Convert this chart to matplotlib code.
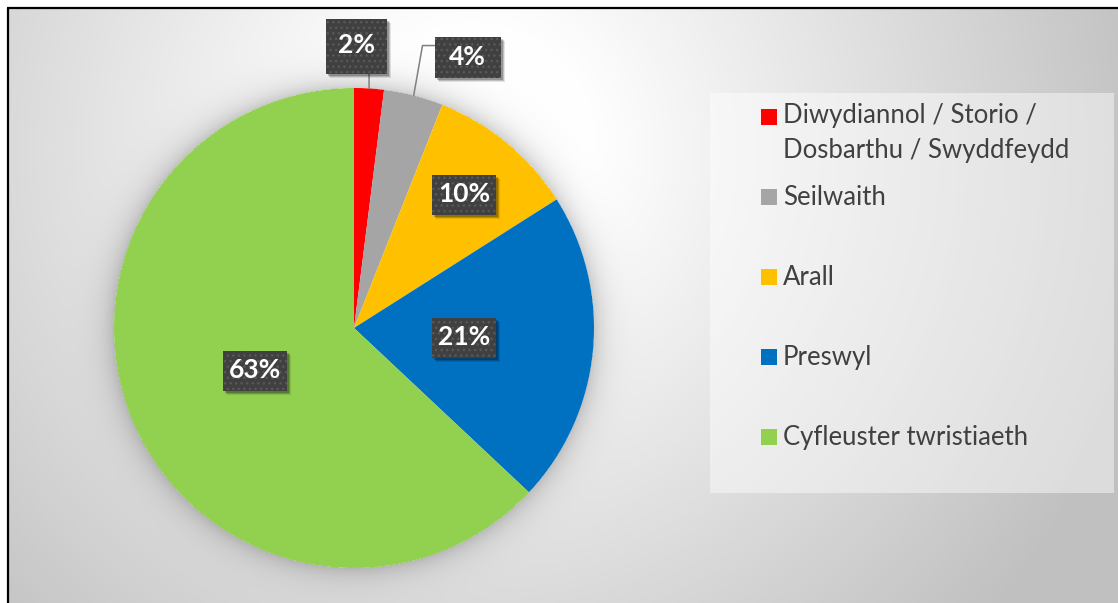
import numpy as np
import matplotlib
matplotlib.use("Agg")
import matplotlib.pyplot as plt
from matplotlib.patches import Rectangle

categorias = ["Diwydiannol / Storio /\nDosbarthu / Swyddfeydd", "Seilwaith", "Arall",
              "Preswyl", "Cyfleuster twristiaeth"]
valores = [2, 4, 10, 21, 63]
colores = ["#FF0000", "#A5A5A5", "#FFC000", "#0070C0", "#92D050"]

W, H = 1118, 603
plt.rcParams["hatch.linewidth"] = 1.0
fig = plt.figure(figsize=(W / 100, H / 100), dpi=100)
ax = fig.add_axes([0, 0, 1, 1])

# centro y radio de la tarta (en píxeles)
cx, cy_px, R = 354, 328, 240
cy = H - cy_px

# fondo con degradado radial y sombra suave alrededor de la tarta
yy, xx = np.mgrid[0:H, 0:W] + 0.5
d = np.hypot(xx - 470, yy - 150)
fondo = 255 - 63 * np.clip((d - 120) / 580, 0, 1)
dp = np.hypot(xx - cx, yy - cy_px) - R
sombra = np.where(dp > 0, 0.18 * np.exp(-np.clip(dp, 0, None) / 13), 0)
fondo = fondo * (1 - sombra)
img = np.dstack([fondo] * 3) / 255
img[:8, :] = 1
img[:, :8] = 1
ax.imshow(img, extent=(0, W, 0, H), origin="upper", zorder=0, interpolation="nearest")

# borde superior e izquierdo
ax.plot([7, W], [H - 8, H - 8], color="black", lw=1.6, zorder=1, solid_capstyle="butt")
ax.plot([8, 8], [0, H - 8], color="black", lw=1.6, zorder=1, solid_capstyle="butt")

# tarta
wedges, _ = ax.pie(valores, colors=colores, startangle=90, counterclock=False,
                   radius=R, center=(cx, cy))
for w in wedges:
    w.set_zorder(2)

# etiquetas: exteriores (con línea guía) e interiores
desplaz = {0: (-13, 42), 1: (54, 38)}
radio_int = {2: 0.72, 3: 0.46, 4: 0.45}
tam_caja = {0: (61, 55), 1: (66, 41)}

for i, w in enumerate(wedges):
    ang = np.deg2rad((w.theta1 + w.theta2) / 2)
    if i in desplaz:
        borde = (cx + R * np.cos(ang), cy + R * np.sin(ang))
        tx, ty = borde[0] + desplaz[i][0], borde[1] + desplaz[i][1]
    else:
        f = radio_int[i]
        tx, ty = cx + f * R * np.cos(ang), cy + f * R * np.sin(ang)
    bw, bh = tam_caja.get(i, (64, 40))
    # sombra de la caja
    for k, a in [(4, 0.10), (3, 0.16), (2, 0.22)]:
        ax.add_patch(Rectangle((tx - bw / 2 + k, ty - bh / 2 - k), bw, bh,
                               facecolor="black", alpha=a, edgecolor="none", zorder=4))
    ax.add_patch(Rectangle((tx - bw / 2, ty - bh / 2), bw, bh, facecolor="#404040",
                           edgecolor="#595959", linewidth=0, hatch="...", zorder=5))
    ax.text(tx, ty + 1, f"{valores[i]}%", ha="center", va="center", family="Lato",
            weight="bold", size=19, color="white", zorder=6)
    # líneas guía
    if i == 0:
        ax.annotate("", xy=borde, xytext=(borde[0], ty - bh / 2), zorder=3,
                    arrowprops=dict(arrowstyle="-", color="#808080", lw=1.1,
                                    shrinkA=0, shrinkB=0))
    elif i == 1:
        ax.annotate("", xy=borde, xytext=(tx - bw / 2, ty + 12), zorder=3,
                    arrowprops=dict(arrowstyle="-", color="#808080", lw=1.1,
                                    connectionstyle="angle,angleA=0,angleB=80",
                                    shrinkA=0, shrinkB=0))

# leyenda
ax.add_patch(Rectangle((710, H - 493), 404, 400, facecolor="white", alpha=0.45,
                       edgecolor="none", zorder=1))
y_ley = [116.5, 196.5, 276.5, 356.5, 436.5]
for etiqueta, color, yc in zip(categorias, colores, y_ley):
    ax.add_patch(Rectangle((761, H - yc - 8), 16, 16, facecolor=color,
                           edgecolor="none", zorder=3))
    n = etiqueta.count("\n")
    ax.text(783, H - (yc + 8.5 + 33 * n), etiqueta, ha="left", va="baseline",
            family="Lato", size=18.5, color="#404040", linespacing=1.5, zorder=3)

ax.set_xlim(0, W)
ax.set_ylim(0, H)
ax.set_aspect("auto")
ax.axis("off")

fig.savefig("out.png", dpi=100)
